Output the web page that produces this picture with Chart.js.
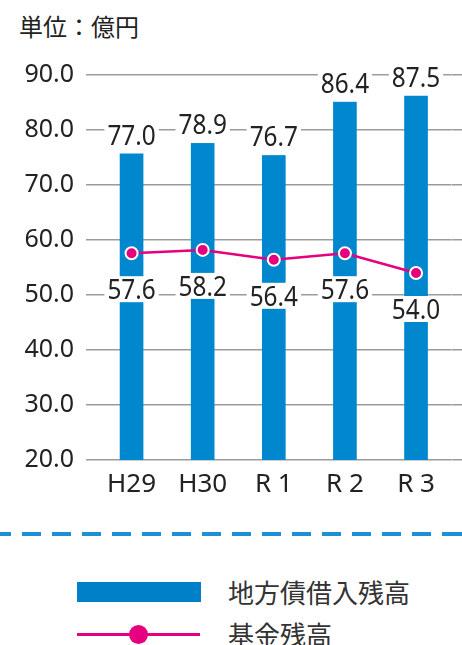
<!DOCTYPE html>
<html lang="ja">
<head>
<meta charset="utf-8">
<title>地方債借入残高・基金残高</title>
<script src="https://cdn.jsdelivr.net/npm/chart.js@4.4.1/dist/chart.umd.min.js"></script>
<style>
  html, body { margin: 0; padding: 0; background: #fff; }
  .wrap {
    position: relative;
    width: 462px;
    height: 645px;
    overflow: hidden;
    font-family: 'Noto Sans CJK JP', 'Noto Sans', sans-serif;
    color: #222;
  }
  .unit { position: absolute; left: 19px; top: 10px; font-size: 24px; line-height: 32px; }
  #chart { position: absolute; left: 0; top: 0; }
  .dash {
    position: absolute; left: 0; top: 532px; width: 462px; height: 4px;
    background: repeating-linear-gradient(to right, #1d8fd6 0 19px, transparent 19px 30px);
    background-position: -8px 0;
  }
  .swatch-bar { position: absolute; left: 77px; top: 582px; width: 124px; height: 20px; background: #0081c7; }
  .swatch-line { position: absolute; left: 77px; top: 633px; width: 123px; height: 3px; background: #e4007f; }
  .swatch-dot { position: absolute; left: 129px; top: 625px; width: 19px; height: 19px; border-radius: 50%; background: #e4007f; }
  .legend-label { position: absolute; left: 228px; font-size: 26px; line-height: 34px; color: #333; }
</style>
</head>
<body>
<div class="wrap">
  <div class="unit">単位：億円</div>
  <canvas id="chart" width="462" height="520"></canvas>
  <div class="dash"></div>
  <div class="swatch-bar"></div>
  <div class="legend-label" style="top: 575px;">地方債借入残高</div>
  <div class="swatch-line"></div>
  <div class="swatch-dot"></div>
  <div class="legend-label" style="top: 617px;">基金残高</div>
</div>
<script>
const categories = ['H29', 'H30', 'R 1', 'R 2', 'R 3'];
const debtValues = [77.0, 78.9, 76.7, 86.4, 87.5];   // 地方債借入残高
const fundValues = [57.6, 58.2, 56.4, 57.6, 54.0];   // 基金残高
const yTicks = [20, 30, 40, 50, 60, 70, 80, 90];

const BAR_BLUE = '#0087cd';
const PINK = '#e4007f';
const GRID = '#9b9b9b';
const TEXT = '#222';

Chart.defaults.font.family = "'Noto Sans', 'Noto Sans CJK JP', sans-serif";
Chart.defaults.color = TEXT;

// value labels with a white box behind them
const valueLabels = {
  id: 'valueLabels',
  afterDatasetsDraw(chart) {
    const ctx = chart.ctx;
    const squeeze = 0.87;
    ctx.save();
    ctx.font = "28px 'Noto Sans', sans-serif";
    ctx.textBaseline = 'alphabetic';
    ctx.textAlign = 'center';

    const drawLabel = (text, x, baseline, boxTop, boxBottom) => {
      const w = ctx.measureText(text).width * squeeze;
      ctx.fillStyle = '#fff';
      ctx.fillRect(x - w / 2 - 3, boxTop, w + 6, boxBottom - boxTop);
      ctx.save();
      ctx.translate(x, baseline);
      ctx.scale(squeeze, 1);
      ctx.fillStyle = TEXT;
      ctx.fillText(text, 0, 0);
      ctx.restore();
    };

    chart.getDatasetMeta(0).data.forEach((bar, i) => {
      const base = bar.y - 2;
      drawLabel(debtValues[i].toFixed(1), bar.x, base, base - 23, bar.y + 7);
    });
    chart.getDatasetMeta(1).data.forEach((pt, i) => {
      const mid = pt.y + 36;
      drawLabel(fundValues[i].toFixed(1), pt.x, mid + 10, mid - 13, mid + 13);
    });
    ctx.restore();
  }
};

new Chart(document.getElementById('chart'), {
  data: {
    labels: categories,
    datasets: [
      {
        type: 'bar',
        label: '地方債借入残高',
        data: debtValues,
        backgroundColor: BAR_BLUE,
        barThickness: 23,
        order: 2
      },
      {
        type: 'line',
        label: '基金残高',
        data: fundValues,
        borderColor: PINK,
        borderWidth: 2.5,
        pointRadius: 6,
        pointBackgroundColor: PINK,
        pointBorderColor: '#fff',
        pointBorderWidth: 2,
        tension: 0,
        order: 1
      }
    ]
  },
  options: {
    responsive: false,
    animation: false,
    devicePixelRatio: 1,
    layout: { padding: { top: 75, right: 0, bottom: 0, left: 0 } },
    scales: {
      x: {
        grid: { display: false, drawTicks: false },
        border: { display: false },
        ticks: { font: { size: 26 }, color: TEXT, padding: 9 },
        afterFit: (scale) => { scale.height = 60; }
      },
      y: {
        position: 'left',
        min: 20,
        max: 90,
        afterBuildTicks: (scale) => { scale.ticks = yTicks.map(v => ({ value: v })); },
        ticks: {
          font: { size: 25 },
          color: TEXT,
          padding: 12,
          callback: (v) => Number(v).toFixed(1)
        },
        grid: { color: GRID, lineWidth: 1.5, drawTicks: true, tickLength: 10, tickColor: GRID },
        border: { display: false },
        afterFit: (scale) => { scale.width = 96; }
      },
      y2: {
        position: 'right',
        min: 20,
        max: 90,
        afterBuildTicks: (scale) => { scale.ticks = yTicks.map(v => ({ value: v })); },
        ticks: { display: false },
        grid: { color: GRID, lineWidth: 1.5, drawOnChartArea: false, drawTicks: true, tickLength: 11, tickColor: GRID },
        border: { display: false },
        afterFit: (scale) => { scale.width = 10.4; }
      }
    },
    plugins: {
      legend: { display: false },
      tooltip: { enabled: false }
    }
  },
  plugins: [valueLabels]
});
</script>
</body>
</html>
